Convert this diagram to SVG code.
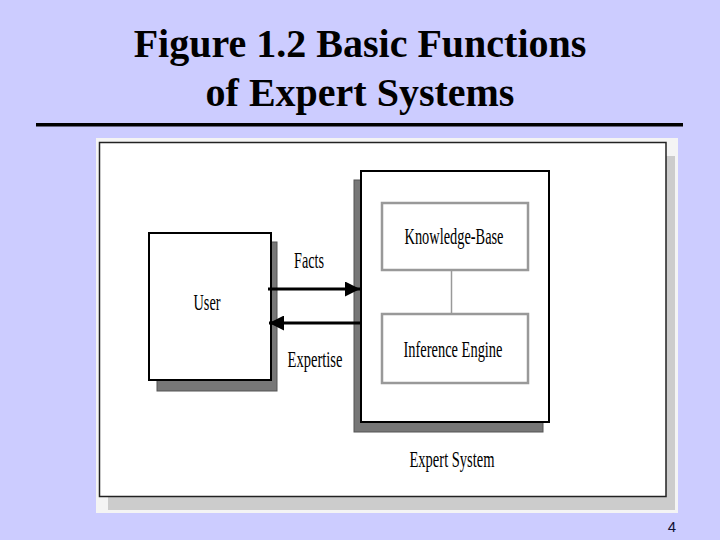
<svg xmlns="http://www.w3.org/2000/svg" width="720" height="540" viewBox="0 0 720 540">
<style>
.title{font-family:"Liberation Serif","Times New Roman",serif;font-weight:bold;font-size:40px;fill:#000;text-anchor:middle}
.lbl{font-family:"Liberation Serif","Times New Roman",serif;font-size:24px;fill:#000;text-anchor:middle}
.box{fill:#fff;stroke:#000;stroke-width:2}
.shadow{fill:#777;stroke:#555;stroke-width:1}
.inner{fill:#fff;stroke:#999;stroke-width:2.5}
.conn{stroke:#000;stroke-width:3;fill:none}
</style>
<defs>
<marker id="ah" viewBox="0 0 10 10" refX="10" refY="5" markerWidth="5.5" markerHeight="5" orient="auto" markerUnits="strokeWidth">
<path d="M0,0 L10,5 L0,10 z" fill="#000"/>
</marker>
</defs>
<rect width="720" height="540" fill="#ccccff"/>
<text class="title" x="360" y="57">Figure 1.2 Basic Functions</text>
<text class="title" x="360" y="106">of Expert Systems</text>
<rect x="36" y="123" width="647" height="3.5" fill="#000"/>
<g id="panel">
<rect x="96" y="138" width="582" height="375" fill="#f4f4f4"/>
<rect x="108" y="156" width="567" height="354" fill="#cccccc"/>
<rect x="99.5" y="142.5" width="566.5" height="354" fill="#fff" stroke="#222" stroke-width="1.5"/>
</g>
<g id="user">
<rect class="shadow" x="157" y="242" width="120" height="149"/>
<rect class="box" x="149" y="233" width="122" height="147"/>
<text class="lbl" x="207" y="310" textLength="27" lengthAdjust="spacingAndGlyphs">User</text>
</g>
<g id="expert-system">
<rect class="shadow" x="354" y="180" width="189" height="252"/>
<rect class="box" x="361" y="171" width="188" height="251"/>
<text class="lbl" x="452" y="467" textLength="85" lengthAdjust="spacingAndGlyphs">Expert System</text>
</g>
<g id="knowledge-base">
<rect class="inner" x="382" y="203" width="146" height="67"/>
<text class="lbl" x="454" y="244" textLength="99" lengthAdjust="spacingAndGlyphs">Knowledge-Base</text>
</g>
<g id="inference-engine">
<rect class="inner" x="382" y="314" width="146" height="69"/>
<text class="lbl" x="453" y="357" textLength="99" lengthAdjust="spacingAndGlyphs">Inference Engine</text>
</g>
<g id="connectors">
<line x1="451.5" y1="270" x2="451.5" y2="314" stroke="#999" stroke-width="1.5"/>
<line class="conn" x1="268" y1="289" x2="360" y2="289" marker-end="url(#ah)"/>
<line class="conn" x1="362" y1="323" x2="269" y2="323" marker-end="url(#ah)"/>
<text class="lbl" x="309" y="268" textLength="30" lengthAdjust="spacingAndGlyphs">Facts</text>
<text class="lbl" x="315" y="367" textLength="55" lengthAdjust="spacingAndGlyphs">Expertise</text>
</g>
<text x="672" y="532" font-family="Liberation Sans, Arial, sans-serif" font-size="15" fill="#111133" text-anchor="middle">4</text>
</svg>
